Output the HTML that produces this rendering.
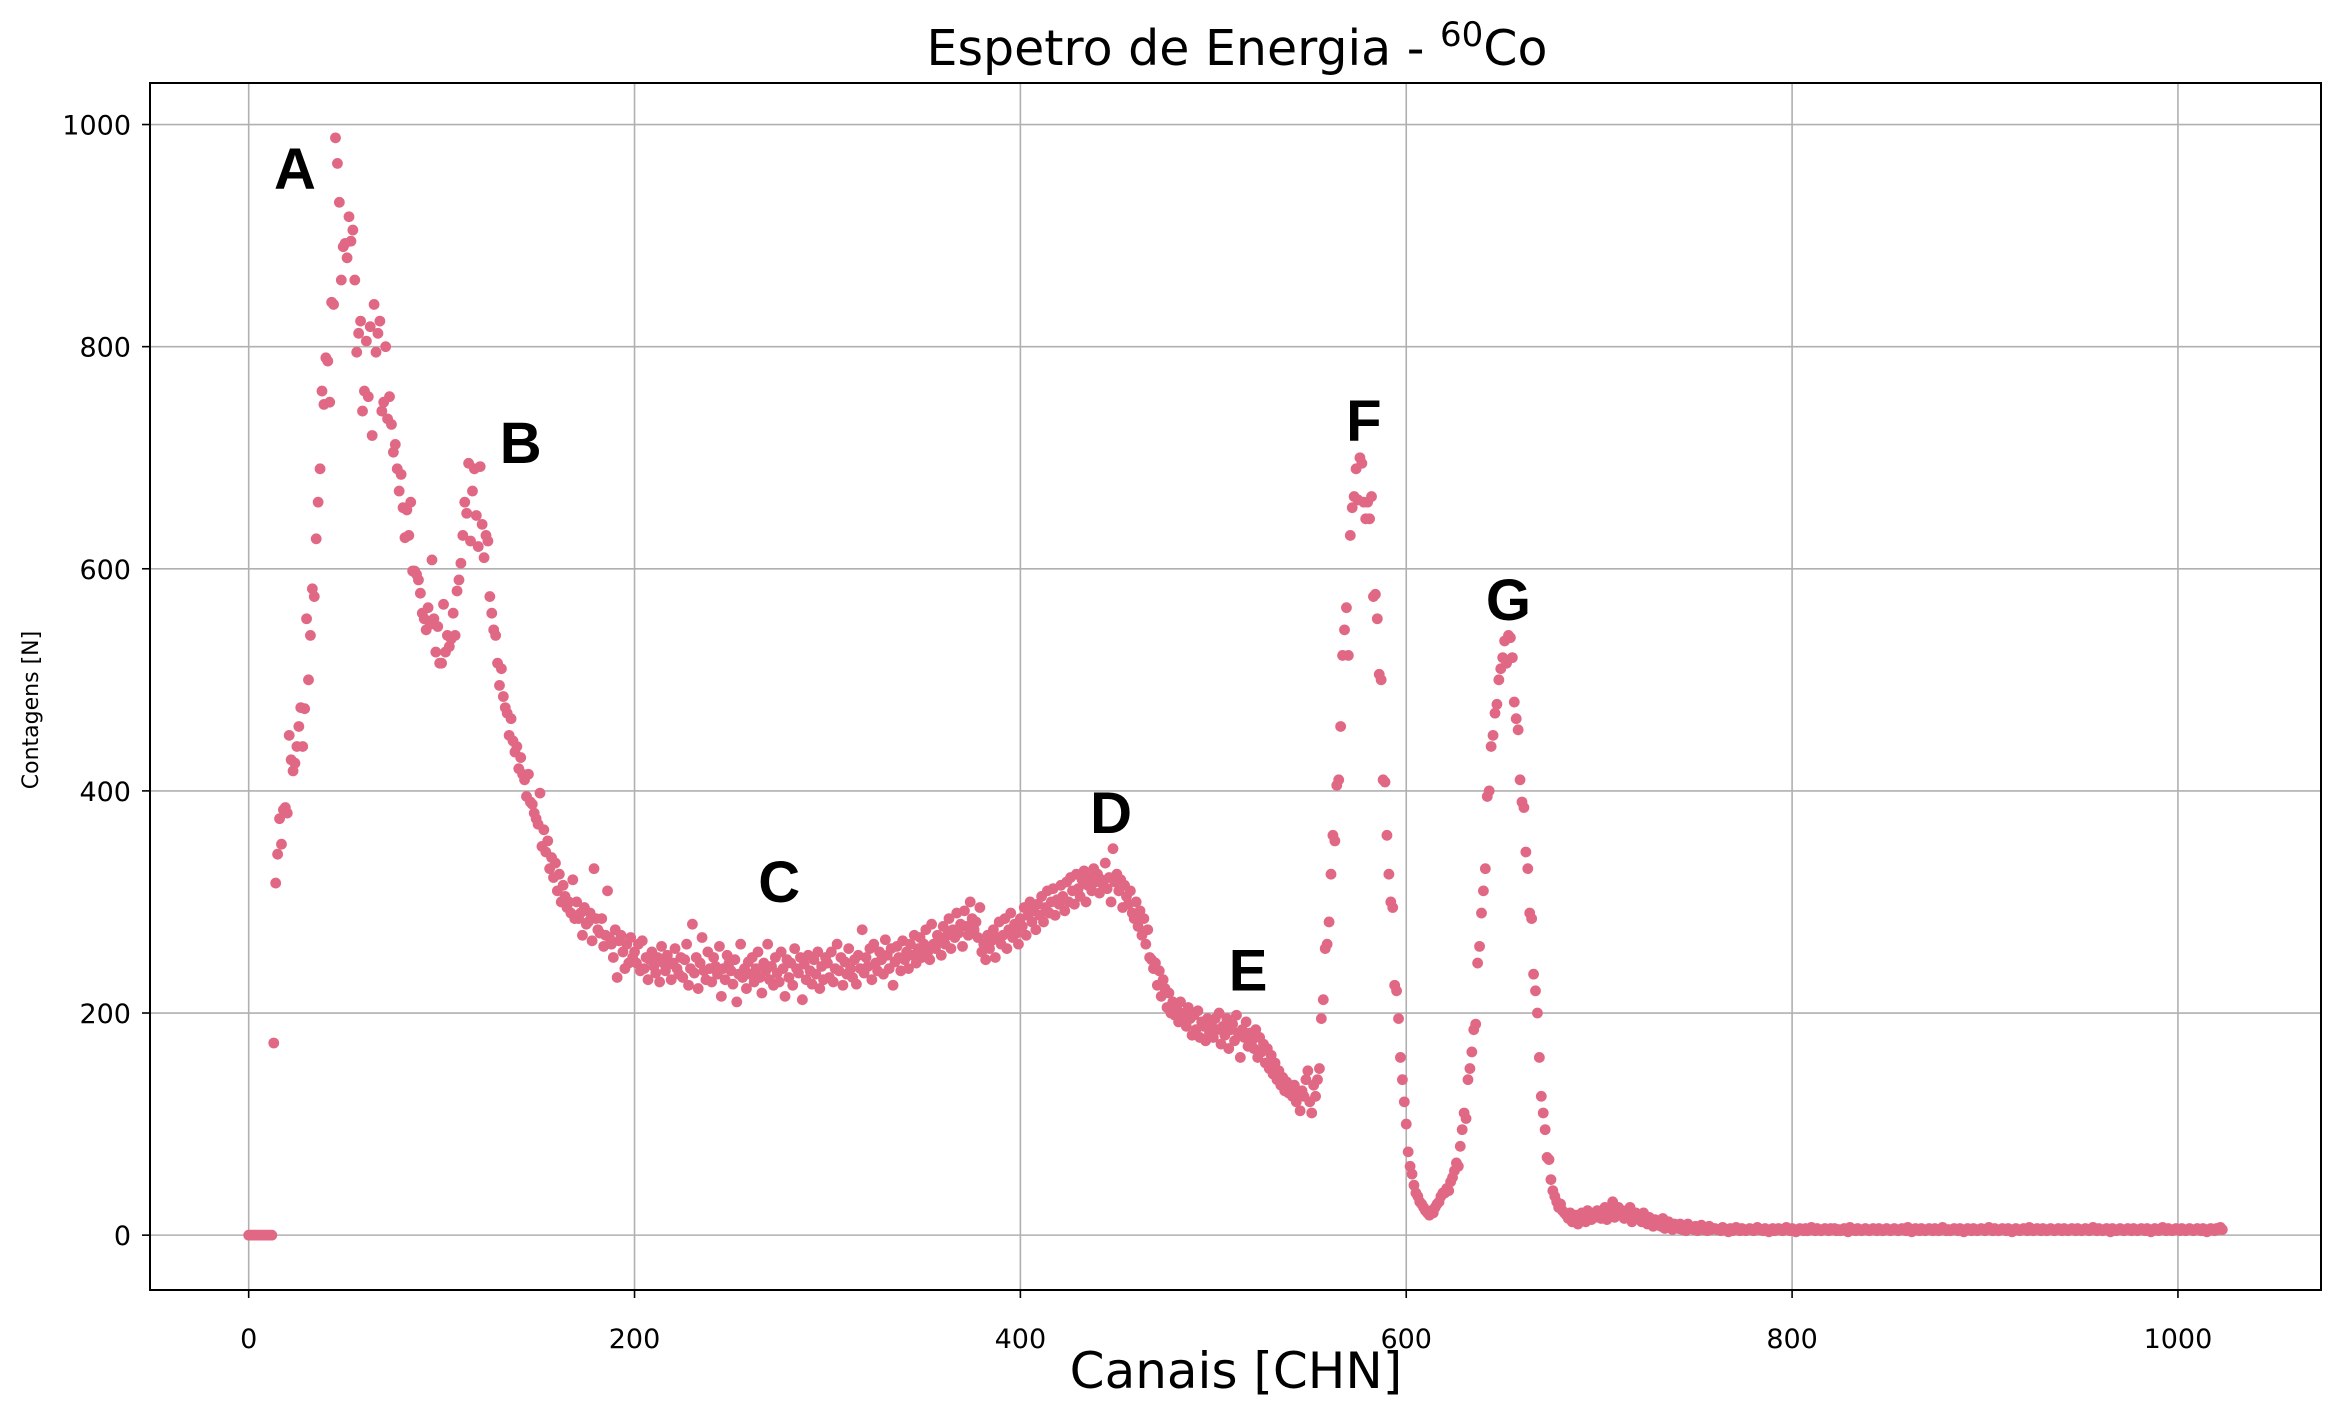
<!DOCTYPE html>
<html><head><meta charset="utf-8"><style>
html,body{margin:0;padding:0;background:#fff;}
svg{display:block;}
</style></head><body>
<svg id="chart" width="2339" height="1418" viewBox="0 0 2339 1418" xmlns="http://www.w3.org/2000/svg">
<rect x="0" y="0" width="2339" height="1418" fill="#fff"/>
<g id="grid"></g>
<g id="points"></g>
<g id="axes"></g>
<g id="annots"></g>
<text x="1237" y="65" text-anchor="middle" font-family="DejaVu Sans, Liberation Sans, sans-serif" font-size="49">Espetro de Energia - <tspan font-size="34" dy="-19">60</tspan><tspan dy="19">Co</tspan></text>
<text x="1236" y="1388" text-anchor="middle" font-family="DejaVu Sans, Liberation Sans, sans-serif" font-size="50">Canais [CHN]</text>
<text x="0" y="0" transform="translate(38,710) rotate(-90)" text-anchor="middle" font-family="DejaVu Sans, Liberation Sans, sans-serif" font-size="22">Contagens [N]</text>
</svg>
<script>
const countsHead = [
0,0,0,0,0,0,0,0,0,0,0,0,0,173,317,343,375,352,383,385,
380,450,428,418,425,440,458,475,440,474,555,500,540,582,575,627,660,690,760,748,
790,787,750,840,838,988,965,930,860,890,893,880,917,895,905,860,795,812,823,742,
760,805,755,818,720,838,795,812,823,742,750,800,735,755,730,705,712,690,670,685,
655,628,653,630,660,598,598,595,590,578,560,555,545,565,550,608,555,525,548,515,
515,568,525,540,530,537,560,540,580,590,605,630,660,650,695,625,670,690,648,620,
692,640,610,630,625,575,560,545,540,515,495,510,485,475,470,450,465,445,435,440,
420,430,415,410,395,415,390,388,380,375,370,398,350,365,345,355,330,340,322,335,
310,325,300,315,305,295,300,290,320,285,300,285,290,270,295,280,282,290,265,330,
285,275,272,285,260,270,310,268,262,250,275,232,265,270,255,240,262,245,268,250,
255,245,262,238,265,240,250,230,248,255,242,236,250,228,260,245,238,252,244,230,
245,258,240,235,250,232,248,262,225,240,280,236,250,222,245,268,238,230,255,240,
228,250,242,235,260,215,240,230,252,245,238,226,248,210,235,262,232,240,222,246,
235,250,228,240,255,232,218,245,238,262,230,242,225,250,236,228,255,240,215,248,
232,245,225,258,240,236,250,212,244,230,252,238,226,248,235,255,222,242,230,250,
245,232,255,228,240,262,238,250,225,246,235,258,240,232,248,226,252,240,275,236,
250,242,258,230,262,245,238,255,248,235,266,252,240,258,225,246,260,250,238,265,
248,255,240,262,252,270,245,258,268,250,262,275,255,248,280,262,258,270,265,252,
278,262,270,285,258,275,268,290,272,280,260,292,278,270,300,285,275,282,268,295
];
const countsMid = [
255,262,248,270,258,265,275,250,268,282,262,270,285,258,275,290,268,280,272,262,
285,278,295,270,288,300,282,292,275,298,288,305,282,295,310,290,300,312,288,302,
298,315,305,292,318,300,322,310,298,325,312,305,320,328,300,315,322,310,330,318,
325,308,320,315,335,312,322,300,348,318,325,310,320,295,315,305,298,310,290,285,
300,278,292,270,285,262,275,250,248,240,245,225,238,215,230,222,205,218,200,210,
198,205,192,210,195,200,188,205,195,180,198,185,202,178,192,188,175,195,182,190,
178,195,185,200,172,188,180,195,168,185,190,175,198,182,160,185,178,192,170,182,
175,168,185,160,178,165,172,155,168,150,162,145,155,140,148,135,142,130,138,128,
132,125,135,120,128,112,130,125,140,148,120,110,135,125,140,150,195,212,258,262,
282,325,360,355,405,410,458,522,545,565,522,630,655,665,690,662,700,695,660,645,
660,645,665,575,577,555,505,500,410,408,360,325,300,295,225,220,195,160,140,120,
100,75,62,55,45,38,35,30,28,25,22,20,18,22,20,25,28,30,35,38,
38,42,40,48,52,58,65,62,80,95,110,105,140,150,165,185,190,245,260,290,
310,330,395,400,440,450,470,478,500,510,520,535,515,540,538,520,480,465,455,410,
390,385,345,330,290,285,235,220,200,160,125,110,95,70,68,50,40,35,30,25,
28,22,20,18,15,20,12,15,18,10,14,20,16,12,22,18,14,20,16,22,
18,15,20,25,14,18,22,30,16,20,25,18,22,15,20,17,25,12,18,20,
15,18,12,20,14,10,16,12,8,14,10,12,8,15,6,10,12,8,5,10,
8,6,10,5,8,4,10,6,7,5,8,4,6,9,5,7,4,8,5,6
];
const countsTailDigits = "655475536457546545654575546535645654575465356546457546545654656454565375546545654565465456545654565475356546545654654575454565465356546545654575465456546535654565475456546545654565465456546545654575465456536545654565465456546535654575465456546545654565465356546575";
const xTicks = [0, 200, 400, 600, 800, 1000];
const yTicks = [0, 200, 400, 600, 800, 1000];
const peakNames = ["A","B","C","D","E","F","G"];
const peakX = [24, 141, 275, 447, 518, 578, 653];
const peakY = [961, 714, 319, 381, 239, 734, 573];

const NS = "http://www.w3.org/2000/svg";
const L = 150, R = 2321, T = 83, B = 1290;
const xMin = -51.15, xMax = 1074.15, yMin = -49.4, yMax = 1037.4;
function xs(v){ return L + (v - xMin) / (xMax - xMin) * (R - L); }
function ys(v){ return B - (v - yMin) / (yMax - yMin) * (B - T); }
function mk(tag, attrs, parent){
  const e = document.createElementNS(NS, tag);
  for (const k in attrs) e.setAttribute(k, attrs[k]);
  parent.appendChild(e);
  return e;
}
const counts = countsHead.concat(countsMid, countsTailDigits.split("").map(Number)).slice(0, 1024);

const grid = document.getElementById("grid");
const axes = document.getElementById("axes");
const pts = document.getElementById("points");
const ann = document.getElementById("annots");

xTicks.forEach(t => {
  const gl = mk("line", {x1: xs(t), x2: xs(t), y1: T, y2: B, stroke: "#b0b0b0", "stroke-width": 1.6}, grid);
  
  
  const tk = mk("line", {x1: xs(t), x2: xs(t), y1: B, y2: B + 8, stroke: "#000", "stroke-width": 1.6}, axes);
  
  
  const lb = mk("text", {x: xs(t), y: 1348, "text-anchor": "middle", "font-family": "DejaVu Sans, Liberation Sans, sans-serif", "font-size": 27}, axes);
  lb.textContent = t;
  
  
});
yTicks.forEach(t => {
  const gl = mk("line", {x1: L, x2: R, y1: ys(t), y2: ys(t), stroke: "#b0b0b0", "stroke-width": 1.6}, grid);
  
  
  const tk = mk("line", {x1: L - 8, x2: L, y1: ys(t), y2: ys(t), stroke: "#000", "stroke-width": 1.6}, axes);
  
  
  const lb = mk("text", {x: 131, y: ys(t) + 10, "text-anchor": "end", "font-family": "DejaVu Sans, Liberation Sans, sans-serif", "font-size": 27}, axes);
  lb.textContent = t;
  
  
});
const frame = mk("rect", {x: L, y: T, width: R - L, height: B - T, fill: "none", stroke: "#000", "stroke-width": 2}, axes);



counts.forEach((c, i) => {
  const p = mk("circle", {cx: xs(i), cy: ys(c), r: 5.4, fill: "#e16884"}, pts);
  
  
});

peakNames.forEach((n, i) => {
  const t = mk("text", {x: xs(peakX[i]), y: ys(peakY[i]) + 21, "text-anchor": "middle", "font-family": "Liberation Sans, Arial, sans-serif", "font-weight": "bold", "font-size": 58}, ann);
  t.textContent = n;
  
  
});
</script>
</body></html>
